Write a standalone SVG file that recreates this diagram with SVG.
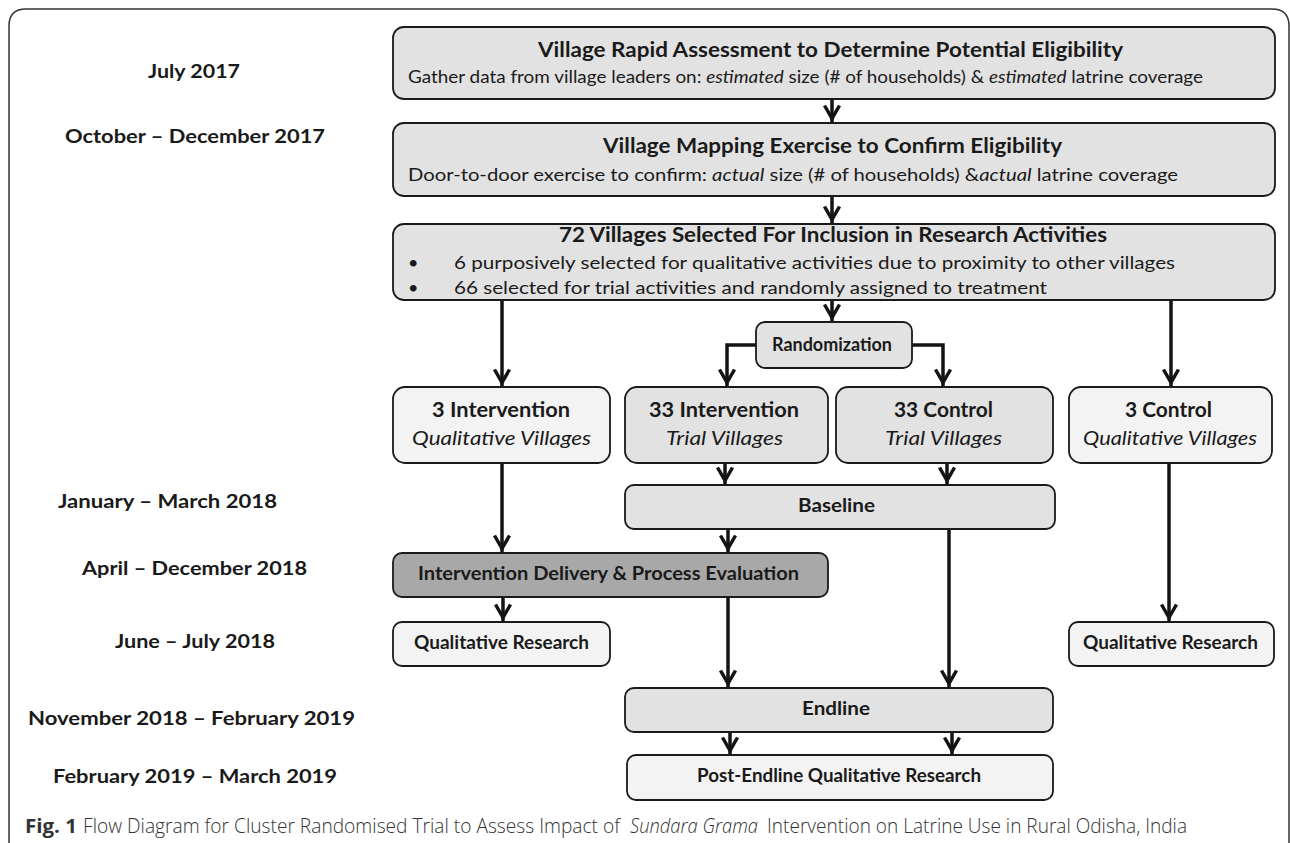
<svg xmlns="http://www.w3.org/2000/svg" width="1290" height="843" viewBox="0 0 1290 843">
<style>
.box{stroke:#1a1a1a;stroke-width:1.8}
.mid{fill:#e2e2e2}
.lt{fill:#f3f3f3}
.dk{fill:#a8a8a8}
.t{font-family:Lato,"Open Sans","Liberation Sans",sans-serif;fill:#1a1a1a}
.b{font-weight:700}
.i{font-style:italic}
.date{font-family:Lato,"Open Sans","Liberation Sans",sans-serif;font-weight:700;font-size:19px;fill:#1a1a1a}
.cap{font-family:"Open Sans","Liberation Sans",sans-serif;font-weight:300;font-size:20px;fill:#333}
.con{fill:none;stroke:#141414;stroke-width:3.5;marker-end:url(#ah)}
</style>
<defs>
<marker id="ah" markerUnits="userSpaceOnUse" viewBox="-16 -10 22 20" refX="3.5" refY="0" markerWidth="22" markerHeight="20" orient="auto" overflow="visible">
<path d="M-13,-7.5 L0,0 L-13,7.5" fill="none" stroke="#141414" stroke-width="3.5"/>
</marker>
</defs>
<rect width="1290" height="843" fill="#fff"/>
<path d="M9,843 V26 Q9,9 26,9 H1272 Q1289,9 1289,26 V843" fill="none" stroke="#333" stroke-width="1.5"/>

<g id="dates">
<text class="date" x="148" y="78" textLength="92" lengthAdjust="spacingAndGlyphs">July 2017</text>
<text class="date" x="65" y="143" textLength="260" lengthAdjust="spacingAndGlyphs">October – December 2017</text>
<text class="date" x="58" y="508" textLength="219" lengthAdjust="spacingAndGlyphs">January – March 2018</text>
<text class="date" x="82" y="575" textLength="225" lengthAdjust="spacingAndGlyphs">April – December 2018</text>
<text class="date" x="115" y="648" textLength="160" lengthAdjust="spacingAndGlyphs">June – July 2018</text>
<text class="date" x="28" y="725" textLength="327" lengthAdjust="spacingAndGlyphs">November 2018 – February 2019</text>
<text class="date" x="53" y="783" textLength="284" lengthAdjust="spacingAndGlyphs">February 2019 – March 2019</text>
</g>

<g id="connectors">
<path class="con" d="M832,99 V122"/>
<path class="con" d="M832,196 V223"/>
<path class="con" d="M832,300 V321"/>
<path class="con" d="M502,300 V386"/>
<path class="con" d="M1171,300 V386"/>
<path class="con" d="M756,345 H727 V386"/>
<path class="con" d="M912,345 H943 V386"/>
<path class="con" d="M725,463 V484"/>
<path class="con" d="M947,463 V484"/>
<path class="con" d="M502,463 V552"/>
<path class="con" d="M728,529 V552"/>
<path class="con" d="M949,529 V687"/>
<path class="con" d="M503,597 V621"/>
<path class="con" d="M728,597 V687"/>
<path class="con" d="M1169,463 V621"/>
<path class="con" d="M730,732 V754"/>
<path class="con" d="M952,732 V754"/>
</g>

<g id="n-rapid">
<rect class="box mid" x="393" y="27" width="882" height="72" rx="11"/>
<text class="t b" font-size="21" x="538" y="57" textLength="585" lengthAdjust="spacingAndGlyphs">Village Rapid Assessment to Determine Potential Eligibility</text>
<text class="t" font-size="18" x="408" y="83" textLength="795" lengthAdjust="spacingAndGlyphs">Gather data from village leaders on: <tspan class="i">estimated</tspan> size (# of households) &amp; <tspan class="i">estimated</tspan> latrine coverage</text>
</g>

<g id="n-mapping">
<rect class="box mid" x="393" y="123" width="882" height="73" rx="11"/>
<text class="t b" font-size="21" x="603" y="153" textLength="459" lengthAdjust="spacingAndGlyphs">Village Mapping Exercise to Confirm Eligibility</text>
<text class="t" font-size="18" x="408" y="181" textLength="770" lengthAdjust="spacingAndGlyphs">Door-to-door exercise to confirm: <tspan class="i">actual</tspan> size (# of households) &amp;<tspan class="i">actual</tspan> latrine coverage</text>
</g>

<g id="n-selected">
<rect class="box mid" x="393" y="224" width="882" height="76" rx="11"/>
<text class="t b" font-size="21" x="559" y="242" textLength="548" lengthAdjust="spacingAndGlyphs">72 Villages Selected For Inclusion in Research Activities</text>
<text class="t" font-size="18" x="408" y="269">•</text>
<text class="t" font-size="18" x="454" y="269" textLength="721" lengthAdjust="spacingAndGlyphs">6 purposively selected for qualitative activities due to proximity to other villages</text>
<text class="t" font-size="18" x="408" y="294">•</text>
<text class="t" font-size="18" x="454" y="294" textLength="593" lengthAdjust="spacingAndGlyphs">66 selected for trial activities and randomly assigned to treatment</text>
</g>

<g id="n-random">
<rect class="box mid" x="756" y="322" width="156" height="46" rx="9"/>
<text class="t b" font-size="18" x="772" y="351" textLength="120" lengthAdjust="spacingAndGlyphs">Randomization</text>
</g>

<g id="n-3int">
<rect class="box lt" x="393" y="387" width="217" height="76" rx="12"/>
<text class="t b" font-size="20" x="432" y="417" textLength="138" lengthAdjust="spacingAndGlyphs">3 Intervention</text>
<text class="t i" font-size="19" x="412" y="445" textLength="179" lengthAdjust="spacingAndGlyphs">Qualitative Villages</text>
</g>

<g id="n-33int">
<rect class="box mid" x="625" y="387" width="203" height="76" rx="12"/>
<text class="t b" font-size="20" x="649" y="417" textLength="150" lengthAdjust="spacingAndGlyphs">33 Intervention</text>
<text class="t i" font-size="19" x="666" y="445" textLength="117" lengthAdjust="spacingAndGlyphs">Trial Villages</text>
</g>

<g id="n-33con">
<rect class="box mid" x="836" y="387" width="217" height="76" rx="12"/>
<text class="t b" font-size="20" x="894" y="417" textLength="99" lengthAdjust="spacingAndGlyphs">33 Control</text>
<text class="t i" font-size="19" x="885" y="445" textLength="117" lengthAdjust="spacingAndGlyphs">Trial Villages</text>
</g>

<g id="n-3con">
<rect class="box lt" x="1069" y="387" width="203" height="76" rx="12"/>
<text class="t b" font-size="20" x="1125" y="417" textLength="87" lengthAdjust="spacingAndGlyphs">3 Control</text>
<text class="t i" font-size="19" x="1083" y="445" textLength="174" lengthAdjust="spacingAndGlyphs">Qualitative Villages</text>
</g>

<g id="n-baseline">
<rect class="box mid" x="625" y="485" width="430" height="44" rx="9"/>
<text class="t b" font-size="18" x="798" y="512" textLength="77" lengthAdjust="spacingAndGlyphs">Baseline</text>
</g>

<g id="n-delivery">
<rect class="box dk" x="393" y="553" width="435" height="44" rx="9"/>
<text class="t b" font-size="19" x="418" y="580" textLength="381" lengthAdjust="spacingAndGlyphs">Intervention Delivery &amp; Process Evaluation</text>
</g>

<g id="n-qual-left">
<rect class="box lt" x="393" y="622" width="217" height="44" rx="9"/>
<text class="t b" font-size="18" x="414" y="649" textLength="175" lengthAdjust="spacingAndGlyphs">Qualitative Research</text>
</g>

<g id="n-qual-right">
<rect class="box lt" x="1069" y="622" width="205" height="44" rx="9"/>
<text class="t b" font-size="18" x="1083" y="649" textLength="175" lengthAdjust="spacingAndGlyphs">Qualitative Research</text>
</g>

<g id="n-endline">
<rect class="box mid" x="625" y="688" width="428" height="44" rx="9"/>
<text class="t b" font-size="19" x="802" y="715" textLength="68" lengthAdjust="spacingAndGlyphs">Endline</text>
</g>

<g id="n-post">
<rect class="box lt" x="627" y="755" width="426" height="45" rx="9"/>
<text class="t b" font-size="18" x="697" y="782" textLength="284" lengthAdjust="spacingAndGlyphs">Post-Endline Qualitative Research</text>
</g>

<g id="caption">
<text class="cap" x="25" y="833" font-weight="700" fill="#1a1a1a" style="font-weight:700" textLength="52" lengthAdjust="spacingAndGlyphs">Fig. 1</text>
<text class="cap" x="83" y="833" textLength="537" lengthAdjust="spacingAndGlyphs">Flow Diagram for Cluster Randomised Trial to Assess Impact of</text>
<text class="cap" x="630" y="833" font-style="italic" textLength="128" lengthAdjust="spacingAndGlyphs">Sundara Grama</text>
<text class="cap" x="767" y="833" textLength="420" lengthAdjust="spacingAndGlyphs">Intervention on Latrine Use in Rural Odisha, India</text>
</g>
</svg>
